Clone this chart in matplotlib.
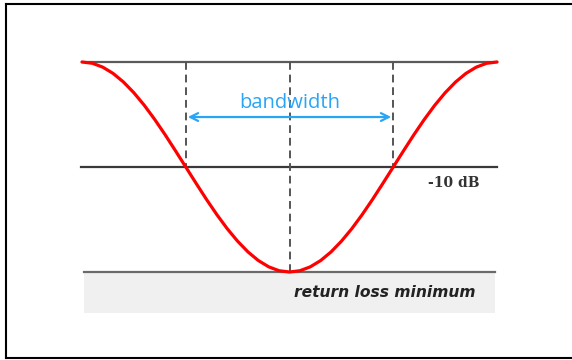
import matplotlib
matplotlib.use("Agg")
import matplotlib.pyplot as plt
from matplotlib.lines import Line2D
from matplotlib.patches import Rectangle

# ---- data ----
freq = [0, 0.5, 1, 1.5, 2, 2.5, 3, 3.5, 4, 4.5, 5, 5.5, 6, 6.5, 7, 7.5, 8, 8.5, 9, 9.5,
        10, 10.5, 11, 11.5, 12, 12.5, 13, 13.5, 14, 14.5, 15, 15.5, 16, 16.5, 17, 17.5,
        18, 18.5, 19, 19.5, 20]
return_loss = [0, -0.12, -0.49, -1.09, -1.91, -2.93, -4.12, -5.46, -6.91, -8.44, -10,
               -11.56, -13.09, -14.54, -15.88, -17.07, -18.09, -18.91, -19.51, -19.88,
               -20, -19.88, -19.51, -18.91, -18.09, -17.07, -15.88, -14.54, -13.09,
               -11.56, -10, -8.44, -6.91, -5.46, -4.12, -2.93, -1.91, -1.09, -0.49,
               -0.12, 0]
ref_levels = [0, -10, -20]
band_edges = [5, 15]
center_freq = 10
label_bandwidth = "bandwidth"
label_level = "-10 dB"
label_min = "return loss minimum"

fig = plt.figure(figsize=(5.72, 3.6), dpi=100)
ax = fig.add_axes([0, 0, 1, 1])
ax.set_xlim(-3.952, 23.614)
ax.set_ylim(-28.381, 5.905)
ax.axis("off")

# gray band under minimum
ax.add_patch(Rectangle((0.1, -23.9), 19.8, 3.9, facecolor="#f0f0f0",
                       edgecolor="none", zorder=1))

# horizontal reference lines
ax.plot([0, 20], [ref_levels[0]] * 2, color="#5a5a5a", lw=1.6, zorder=2)
ax.plot([-0.05, 20], [ref_levels[1]] * 2, color="#3a3a3a", lw=1.6, zorder=2)
ax.plot([0.1, 19.9], [ref_levels[2]] * 2, color="#6a6a6a", lw=1.6, zorder=2)

# dashed verticals
for f in band_edges:
    ax.plot([f, f], [ref_levels[0], ref_levels[1]], color="#555555", lw=1.4,
            dashes=(4, 2.5), zorder=2)
ax.plot([center_freq, center_freq], [ref_levels[0], ref_levels[2]], color="#555555",
        lw=1.4, dashes=(4, 2.5), zorder=2)

# red curve
ax.plot(freq, return_loss, color="#ff0000", lw=2.3, solid_capstyle="round", zorder=4)

# bandwidth arrow
blue = "#2aa5f5"
ax.annotate("", xy=(band_edges[0] + 0.1, -5.24), xytext=(band_edges[1] - 0.1, -5.24),
            arrowprops=dict(arrowstyle="<->", color=blue, lw=1.6,
                            mutation_scale=14, shrinkA=0, shrinkB=0), zorder=5)
ax.text(center_freq, -3.95, label_bandwidth, color=blue, fontsize=14.5,
        family="Open Sans", ha="center", va="center", zorder=5)

# -10 dB label
ax.text(17.9, -11.55, label_level, color="#333333", fontsize=10, family="DejaVu Serif",
        fontweight="bold", ha="center", va="center", zorder=5)

# return loss minimum label
ax.text(14.6, -21.95, label_min, color="#222222", fontsize=11.2, family="DejaVu Sans",
        fontweight="bold", fontstyle="italic", ha="center", va="center", zorder=5)

# frame (left, top, bottom)
W, H = 572.0, 360.0
fig.add_artist(Line2D([6 / W, 6 / W], [1 - 4 / H, 1 - 358 / H], color="black", lw=1.5,
                      transform=fig.transFigure))
fig.add_artist(Line2D([6 / W, 1.0], [1 - 4 / H, 1 - 4 / H], color="black", lw=1.5,
                      transform=fig.transFigure))
fig.add_artist(Line2D([6 / W, 1.0], [1 - 358 / H, 1 - 358 / H], color="black", lw=1.5,
                      transform=fig.transFigure))

fig.savefig("out.png", dpi=100, facecolor="white")
